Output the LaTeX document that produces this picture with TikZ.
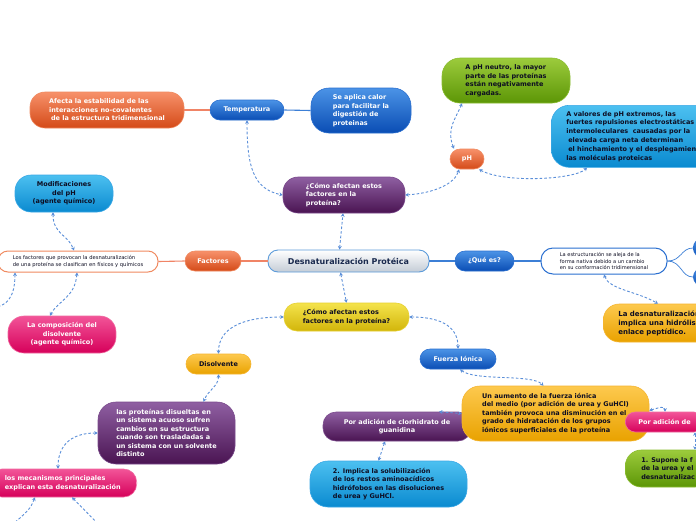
\documentclass[tikz,border=0pt]{standalone}
\usepackage{fontspec}
\setmainfont{DejaVu Sans}
\usetikzlibrary{arrows.meta}
\definecolor{bluT}{HTML}{4B93E6}\definecolor{bluB}{HTML}{0A4DB4}\definecolor{bluD}{HTML}{2A6FD0}
\definecolor{redT}{HTML}{F7916A}\definecolor{redB}{HTML}{D44A18}\definecolor{redD}{HTML}{F08A60}
\definecolor{purT}{HTML}{8F5FA2}\definecolor{purB}{HTML}{4A1452}\definecolor{purD}{HTML}{7A4A8C}
\definecolor{cyaT}{HTML}{4CC0F0}\definecolor{cyaB}{HTML}{0A8AD0}\definecolor{cyaD}{HTML}{3AA8E6}
\definecolor{pinT}{HTML}{F25498}\definecolor{pinB}{HTML}{D6005A}\definecolor{pinD}{HTML}{F06AA0}
\definecolor{grnT}{HTML}{9CCB3C}\definecolor{grnB}{HTML}{5C9606}\definecolor{grnD}{HTML}{8ABD30}
\definecolor{yelT}{HTML}{F4E34C}\definecolor{yelB}{HTML}{D2B50A}\definecolor{yelD}{HTML}{E6D030}
\definecolor{orgT}{HTML}{FDC94E}\definecolor{orgB}{HTML}{E9A200}\definecolor{orgD}{HTML}{F5B530}
\definecolor{cenB}{HTML}{C4CCD6}\definecolor{cenD}{HTML}{5C9BDA}\definecolor{cenTx}{HTML}{1A2A4E}
\definecolor{darkTx}{HTML}{0D0D22}
\definecolor{relc}{HTML}{5B8FD9}
\definecolor{lineO}{HTML}{F08466}
\definecolor{lineB}{HTML}{3C7FD6}
\tikzset{
 nd/.style={rounded corners=10pt, inner sep=0pt, align=center, line width=0.6pt,
   font=\fontsize{6.5}{8.5}\selectfont\bfseries},
 bluen/.style={nd, top color=bluT, bottom color=bluB, draw=bluD, text=white},
 redn/.style={nd, top color=redT, bottom color=redB, draw=redD, text=white},
 purn/.style={nd, top color=purT, bottom color=purB, draw=purD, text=white},
 cyann/.style={nd, top color=cyaT, bottom color=cyaB, draw=cyaD, text=darkTx},
 pinkn/.style={nd, top color=pinT, bottom color=pinB, draw=pinD, text=white},
 grnn/.style={nd, top color=grnT, bottom color=grnB, draw=grnD, text=darkTx},
 yeln/.style={nd, top color=yelT, bottom color=yelB, draw=yelD, text=darkTx},
 orgn/.style={nd, top color=orgT, bottom color=orgB, draw=orgD, text=darkTx},
 cenn/.style={nd, top color=white, bottom color=cenB, draw=cenD, line width=0.9pt, text=cenTx,
   font=\fontsize{8}{10}\selectfont\bfseries},
 wbluen/.style={nd, fill=white, draw=bluD, line width=1pt, text=darkTx,
   font=\fontsize{5.1}{6.8}\selectfont},
 wredn/.style={nd, fill=white, draw=redD, line width=1pt, text=darkTx,
   font=\fontsize{5.2}{6.8}\selectfont},
 rel/.style={draw=relc, line width=0.9pt, dash pattern=on 2.6pt off 2pt,
   {Stealth[length=3.5pt,width=3.8pt]}-{Stealth[length=3.5pt,width=3.8pt]}},
 olink/.style={draw=lineO, line width=1.1pt},
 blink/.style={draw=lineB, line width=1.1pt},
}
\begin{document}
\begin{tikzpicture}[x=1pt,y=-1pt]
\clip (0,0) rectangle (696,520);
\fill[white] (0,0) rectangle (696,520);

% ---- nodes ----
\node[bluen, minimum width=74, minimum height=20] (temp) at (247,110) {Temperatura};
\node[redn, minimum width=154, minimum height=36, rounded corners=15pt, align=left] (afecta) at (107,110)
 {Afecta la estabilidad de las\\interacciones no-covalentes\\\hspace{2pt}de la estructura tridimensional};
\node[bluen, minimum width=100, minimum height=45, rounded corners=18pt, align=left] (seaplica) at (361,110.5)
 {Se aplica calor\\para facilitar la\\digestión de\\proteinas};
\node[purn, minimum width=122, minimum height=36, rounded corners=15pt, align=left] (purpleq) at (344,195)
 {¿Cómo afectan estos\\factores en la\\proteína?};
\node[redn, minimum width=34, minimum height=20] (ph) at (467,159) {pH};
\node[grnn, minimum width=128, minimum height=45, rounded corners=18pt, align=left] (phneutro) at (506,80.5)
 {A pH neutro, la mayor\\parte de las proteínas\\están negativamente\\cargadas.};
\node[cyann, anchor=north west, minimum height=62, rounded corners=18pt, align=left, inner xsep=15pt,
  font=\fontsize{6.5}{8.8}\selectfont\bfseries] (phext) at (551,105)
 {A valores de pH extremos, las\\fuertes repulsiones electrostáticas\\intermoleculares\ \ causadas por la\\\hspace{2pt}elevada carga neta determinan\\\hspace{2pt}el hinchamiento y el desplegamiento\\las moléculas proteicas};
\node[bluen, minimum width=59, minimum height=20] (quees) at (484.5,261) {¿Qué es?};
\node[wbluen, minimum width=126, minimum height=26, rounded corners=12pt, align=left] (estruc) at (604,261)
 {La estructuración se aleja de la\\forma nativa debido a un cambio\\en su conformación tridimensional};
\node[bluen, anchor=west, minimum width=70, minimum height=20] (r1) at (693,248) {};
\node[bluen, anchor=west, minimum width=70, minimum height=19] (r2) at (693,277) {};
\node[orgn, anchor=west, minimum height=38, rounded corners=16pt, align=left, inner xsep=15pt,
  font=\fontsize{7}{9}\selectfont\bfseries] (nohidro) at (603,323)
 {La desnaturalización\\implica una hidrólisis\\enlace peptídico.};
\node[cenn, minimum width=161, minimum height=22] (central) at (348.5,261) {Desnaturalización Protéica};
\node[redn, minimum width=56, minimum height=20] (factores) at (213,261) {Factores};
\node[wredn, minimum width=160, minimum height=21, align=left] (leftbox) at (78,261.5)
 {Los factores que provocan la desnaturalización\\de una proteína se clasifican en físicos y químicos};
\node[cyann, minimum width=98, minimum height=37, rounded corners=16pt] (modph) at (64,193.5)
 {Modificaciones\\del pH\\(agente químico)};
\node[pinkn, minimum width=108, minimum height=37, rounded corners=16pt] (compo) at (62,334.5)
 {La composición del\\disolvente\\(agente químico)};
\node[yeln, minimum width=125, minimum height=28, rounded corners=13pt, align=left] (yellowq) at (346.5,317)
 {¿Cómo afectan estos\\factores en la proteína?};
\node[orgn, minimum width=65, minimum height=20] (disol) at (218.5,364) {Disolvente};
\node[bluen, minimum width=76, minimum height=20] (fuerza) at (458,359) {Fuerza Iónica};
\node[purn, minimum width=137, minimum height=62, rounded corners=18pt, align=left] (prot) at (166.5,433)
 {las proteínas disueltas en\\un sistema acuoso sufren\\cambios en su estructura\\cuando son trasladadas a\\un sistema con un solvente\\distinto};
\node[pinkn, anchor=east, minimum height=28, rounded corners=13pt, align=left, inner xsep=16pt] (mecan) at (137,483)
 {los mecanismos principales\\explican esta desnaturalización};
\node[purn, minimum width=148, minimum height=29, rounded corners=13pt] (clorh) at (397,426.5)
 {Por adición de clorhidrato de\\guanidina};
\node[orgn, minimum width=187, minimum height=55, rounded corners=18pt, align=left] (aumento) at (555.5,413.5)
 {Un aumento de la fuerza iónica\\del medio (por adición de urea y GuHCl)\\también provoca una disminución en el\\grado de hidratación de los grupos\\iónicos superficiales de la proteína};
\node[pinkn, anchor=west, minimum height=20, inner xsep=13pt] (pinkurea) at (625,422) {Por adición de};
\node[cyann, minimum width=157, minimum height=46, rounded corners=18pt, align=left] (implica) at (388.5,484)
 {2. Implica la solubilización\\de los restos aminoacídicos\\hidrófobos en las disoluciones\\de urea y GuHCl.};
\node[grnn, anchor=west, minimum height=37, rounded corners=16pt, align=left, inner xsep=16pt] (supone) at (625,468.5)
 {1. Supone la f\\de la urea y el\\desnaturalizac};

\coordinate (offA) at (-8,308);
\coordinate (offB) at (4,532);
\coordinate (offC) at (106,532);

% ---- solid links ----
\draw[olink] (central.west) -- (factores.east);
\draw[olink] (factores.west) -- (leftbox.east);
\draw[blink] (central.east) -- (quees.west);
\draw[blink] (quees.east) -- (estruc.west);
\draw[olink] (afecta.east) -- (temp.west);
\draw[blink] (temp.east) -- (seaplica.west);
\draw[blink, line width=0.7pt] (estruc.east) .. controls +(14,0) and +(-12,0) .. (r1.west);
\draw[blink, line width=0.7pt] (estruc.east) .. controls +(14,0) and +(-12,0) .. (r2.west);

% ---- relations ----
\draw[rel] (temp.south) .. controls +(0,45) and +(-30,-6) .. (purpleq.west);
\draw[rel] (purpleq.east) .. controls +(30,-2) and +(-4,14) .. ([xshift=-8]ph.south);
\draw[rel] ([xshift=-13]ph.north) .. controls +(-8,-20) and +(-6,15) .. ([xshift=-44]phneutro.south);
\draw[rel] ([xshift=12]ph.south) .. controls +(25,14) and +(-12,12) .. ([xshift=36]phext.south west);
\draw[rel] ([xshift=-11]modph.south) .. controls +(0,22) and +(-6,-16) .. ([xshift=-4]leftbox.north);
\draw[rel] ([xshift=-1]leftbox.south) .. controls +(-2,25) and +(8,-15) .. ([xshift=-12]compo.north);
\draw[rel] ([xshift=-63]leftbox.south) .. controls +(0,28) and +(12,-2) .. (offA);
\draw[rel] ([xshift=-9]central.north) -- ([xshift=-1]purpleq.south);
\draw[rel] ([xshift=-8]central.south) -- (yellowq.north);
\draw[rel] (yellowq.west) .. controls +(-42,0) and +(0,-25) .. (disol.north);
\draw[rel] (yellowq.east) .. controls +(35,0) and +(0,-20) .. (fuerza.north);
\draw[rel] ([xshift=2]fuerza.south) .. controls +(15,12) and +(-12,-12) .. ([xshift=-12]aumento.north);
\draw[rel] ([xshift=42]clorh.north) -- (aumento.west);
\draw[rel] ([yshift=3pt]aumento.east) .. controls +(10,-3) and +(0,-6) .. ([xshift=40]pinkurea.north west);
\draw[rel] ([xshift=70]pinkurea.south west) -- ([xshift=70]supone.north west);
\draw[rel] ([xshift=-12]clorh.south) -- ([xshift=-10]implica.north);
\draw[rel] (disol.south) .. controls +(0,12) and +(5,-12) .. ([xshift=37]prot.north);
\draw[rel] (prot.west) .. controls +(-30,0) and +(0,-20) .. ([xshift=-79]mecan.north east);
\draw[rel] ([xshift=-102]mecan.south east) .. controls +(-5,12) .. (offB);
\draw[rel] ([xshift=-65]mecan.south east) -- (offC);
\draw[rel] (estruc.south) .. controls +(5,15) and +(-20,-12) .. ([xshift=55]nohidro.north west);
\end{tikzpicture}
\end{document}
